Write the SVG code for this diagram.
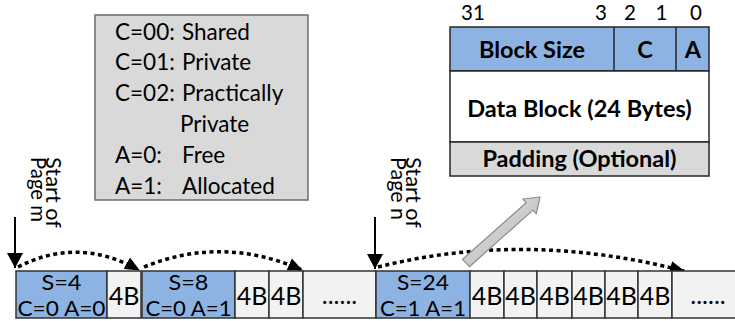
<svg xmlns="http://www.w3.org/2000/svg" width="735" height="321" viewBox="0 0 735 321">
  <style>
    text { font-family: Lato, "Liberation Sans", sans-serif; fill: #000; }
    .legend { font-size: 22.5px; }
    .bits { font-size: 20.5px; text-anchor: middle; }
    .hdr { font-size: 23.5px; font-weight: bold; text-anchor: middle; }
    .cell { font-size: 25px; text-anchor: middle; }
    .cell2 { font-size: 22px; text-anchor: middle; }
    .vert { font-size: 20.5px; }
    .blue { fill: #8db3e2; stroke: #333; stroke-width: 1.5; }
    .plain { fill: #f2f2f2; stroke: #333; stroke-width: 1.5; }
    .dotted { fill: none; stroke: #000; stroke-width: 3.5; stroke-dasharray: 4 3.5; }
    .pointer { fill: none; stroke: #000; stroke-width: 2; }
  </style>
  <defs>
    <marker id="headDot" viewBox="0 0 15 13" refX="14" refY="6.5" markerWidth="15" markerHeight="13" markerUnits="userSpaceOnUse" orient="auto">
      <path d="M0,0 L15,6.5 L0,13 z" fill="#000"/>
    </marker>
    <marker id="headDown" viewBox="0 0 15 16" refX="15" refY="8" markerWidth="15" markerHeight="16" markerUnits="userSpaceOnUse" orient="auto">
      <path d="M0,0 L15,8 L0,16 z" fill="#000"/>
    </marker>
    <linearGradient id="grayArrow" x1="0" y1="0" x2="1" y2="1">
      <stop offset="0" stop-color="#e6e6e6"/>
      <stop offset="1" stop-color="#b3b3b3"/>
    </linearGradient>
  </defs>

  <!-- connectors: page-start pointers, next-block links, zoom arrow -->
  <g id="connectors">
    <line class="pointer" x1="15" y1="217" x2="15" y2="268" marker-end="url(#headDown)"/>
    <line class="pointer" x1="375" y1="217" x2="375" y2="269" marker-end="url(#headDown)"/>
    <path class="dotted" d="M18,267 Q78,236 139,270" marker-end="url(#headDot)"/>
    <path class="dotted" d="M144,267 Q222,235 302,270" marker-end="url(#headDot)"/>
    <path class="dotted" d="M378,267 Q525,230 684,271" marker-end="url(#headDot)"/>
    <polygon points="462.6,259.3 526.2,202.7 522.9,199 540,197 536.3,213.8 533,210.1 469.4,266.7" fill="url(#grayArrow)" stroke="#8c8c8c" stroke-width="1.2" stroke-linejoin="round"/>
  </g>

  <!-- page-start labels -->
  <g id="label-page-m">
    <text class="vert" transform="translate(46,157) rotate(90)" textLength="71" lengthAdjust="spacingAndGlyphs">Start of</text>
    <text class="vert" transform="translate(31,157) rotate(90)" textLength="65" lengthAdjust="spacingAndGlyphs">Page m</text>
  </g>
  <g id="label-page-n">
    <text class="vert" transform="translate(406,157) rotate(90)" textLength="71" lengthAdjust="spacingAndGlyphs">Start of</text>
    <text class="vert" transform="translate(391,157) rotate(90)" textLength="63" lengthAdjust="spacingAndGlyphs">Page n</text>
  </g>

  <!-- legend for the C and A bits -->
  <g id="legend">
    <rect x="95" y="15" width="213" height="185" fill="#d9d9d9" stroke="#6b6b6b" stroke-width="1.5"/>
    <text class="legend" x="115" y="39.5">C=00:</text><text class="legend" x="182" y="39.5">Shared</text>
    <text class="legend" x="115" y="70.3">C=01:</text><text class="legend" x="182" y="70.3">Private</text>
    <text class="legend" x="115" y="101.1">C=02:</text><text class="legend" x="182" y="101.1">Practically</text>
    <text class="legend" x="180" y="131.9">Private</text>
    <text class="legend" x="115" y="162.7">A=0:</text><text class="legend" x="182" y="162.7">Free</text>
    <text class="legend" x="115" y="193.5">A=1:</text><text class="legend" x="182" y="193.5">Allocated</text>
  </g>

  <!-- block layout: header word, data, padding -->
  <g id="block-format">
    <text class="bits" x="473" y="20">31</text>
    <text class="bits" x="601" y="20">3</text>
    <text class="bits" x="630" y="20">2</text>
    <text class="bits" x="661.5" y="20">1</text>
    <text class="bits" x="696" y="20">0</text>
    <rect x="450" y="27" width="259" height="44" fill="#8db3e2" stroke="#262626" stroke-width="1.5"/>
    <line x1="614" y1="27" x2="614" y2="71" stroke="#262626" stroke-width="1.5"/>
    <line x1="676" y1="27" x2="676" y2="71" stroke="#262626" stroke-width="1.5"/>
    <rect x="450" y="71" width="259" height="71" fill="#fff" stroke="#262626" stroke-width="1.5"/>
    <rect x="450" y="142" width="259" height="34" fill="#d9d9d9" stroke="#262626" stroke-width="1.5"/>
    <text class="hdr" x="532" y="58">Block Size</text>
    <text class="hdr" x="645" y="58">C</text>
    <text class="hdr" x="693" y="58">A</text>
    <text class="hdr" x="579.5" y="117">Data Block (24 Bytes)</text>
    <text class="hdr" x="579.5" y="167">Padding (Optional)</text>
  </g>

  <!-- heap row: page m -->
  <g id="block-s4">
    <rect class="blue" x="16" y="271" width="91" height="47"/>
    <text class="cell2" x="61.5" y="289.5" textLength="40" lengthAdjust="spacingAndGlyphs">S=4</text>
    <text class="cell2" x="61.5" y="316" textLength="88" lengthAdjust="spacingAndGlyphs">C=0 A=0</text>
  </g>
  <g id="word-m1">
    <rect class="plain" x="107" y="271" width="34" height="47"/>
    <text class="cell" x="124" y="305">4B</text>
  </g>
  <g id="block-s8">
    <rect class="blue" x="142" y="271" width="93" height="47"/>
    <text class="cell2" x="188.5" y="289.5" textLength="40" lengthAdjust="spacingAndGlyphs">S=8</text>
    <text class="cell2" x="188.5" y="316" textLength="86" lengthAdjust="spacingAndGlyphs">C=0 A=1</text>
  </g>
  <g id="word-m2">
    <rect class="plain" x="235" y="271" width="34" height="47"/>
    <text class="cell" x="252" y="305">4B</text>
  </g>
  <g id="word-m3">
    <rect class="plain" x="269" y="271" width="34" height="47"/>
    <text class="cell" x="286" y="305">4B</text>
  </g>
  <g id="rest-m">
    <rect class="plain" x="303" y="271" width="73" height="47"/>
    <text class="cell" x="339.5" y="304">......</text>
  </g>

  <!-- heap row: page n -->
  <g id="block-s24">
    <rect class="blue" x="376" y="271" width="94" height="47"/>
    <text class="cell2" x="423" y="289.5" textLength="52" lengthAdjust="spacingAndGlyphs">S=24</text>
    <text class="cell2" x="423" y="316" textLength="86" lengthAdjust="spacingAndGlyphs">C=1 A=1</text>
  </g>
  <g id="word-n1"><rect class="plain" x="470" y="271" width="34" height="47"/><text class="cell" x="487" y="305">4B</text></g>
  <g id="word-n2"><rect class="plain" x="504" y="271" width="33" height="47"/><text class="cell" x="520.5" y="305">4B</text></g>
  <g id="word-n3"><rect class="plain" x="537" y="271" width="35" height="47"/><text class="cell" x="554.5" y="305">4B</text></g>
  <g id="word-n4"><rect class="plain" x="572" y="271" width="33" height="47"/><text class="cell" x="588.5" y="305">4B</text></g>
  <g id="word-n5"><rect class="plain" x="605" y="271" width="33" height="47"/><text class="cell" x="621.5" y="305">4B</text></g>
  <g id="word-n6"><rect class="plain" x="638" y="271" width="34" height="47"/><text class="cell" x="655" y="305">4B</text></g>
  <g id="rest-n">
    <rect class="plain" x="672" y="271" width="70" height="47"/>
    <text class="cell" x="708" y="304">......</text>
  </g>
</svg>
